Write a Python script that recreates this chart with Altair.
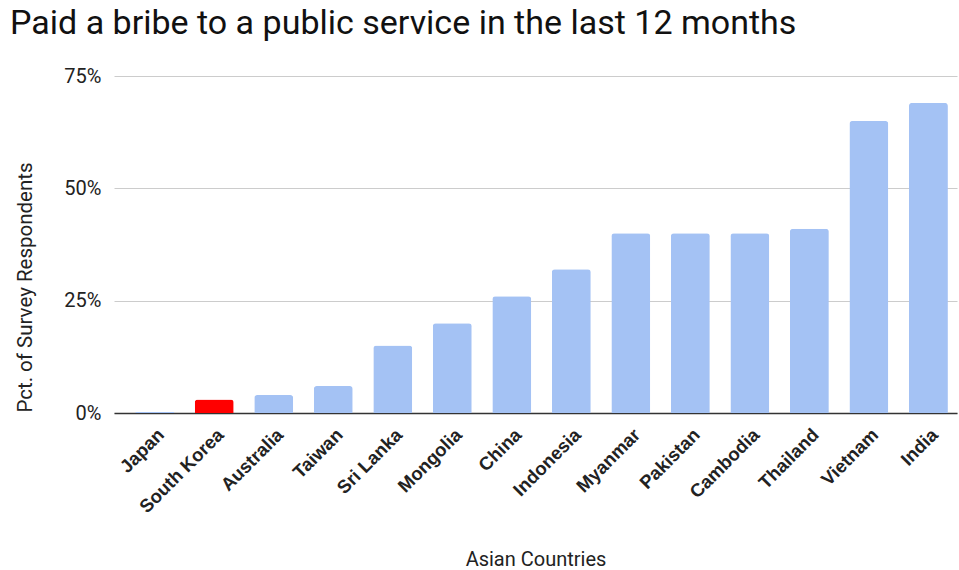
import altair as alt
import pandas as pd

countries = ["Japan", "South Korea", "Australia", "Taiwan", "Sri Lanka", "Mongolia",
             "China", "Indonesia", "Myanmar", "Pakistan", "Cambodia", "Thailand",
             "Vietnam", "India"]
values = [0.002, 0.03, 0.04, 0.06, 0.15, 0.20, 0.26, 0.32, 0.40, 0.40, 0.40, 0.41, 0.65, 0.69]
colors = ["#a4c2f4", "#ff0000"] + ["#a4c2f4"] * 12

df = pd.DataFrame({"country": countries, "value": values, "color": colors})

FONT = "Roboto"
LFONT = "Liberation Sans"

chart = alt.Chart(df).mark_bar(cornerRadiusTopLeft=3, cornerRadiusTopRight=3).encode(
    x=alt.X("country:N", sort=countries,
            scale=alt.Scale(paddingInner=0.345, paddingOuter=0.255, align=0.7),
            axis=alt.Axis(title="Asian Countries", labelAngle=-45, labelFontWeight="bold",
                          labelFontSize=18.5, labelColor="#222222", labelFont=LFONT,
                          ticks=False, domainColor="#333333", domainWidth=1.5,
                          labelPadding=12, titleFontSize=20, titleFont=FONT,
                          titleFontWeight="normal", titleColor="#222222", titlePadding=34)),
    y=alt.Y("value:Q", scale=alt.Scale(domain=[0, 0.75]),
            axis=alt.Axis(title="Pct. of Survey Respondents", format=".0%",
                          values=[0, 0.25, 0.5, 0.75], ticks=False, domain=False,
                          gridColor="#cccccc", labelFontSize=20, labelFont=FONT,
                          labelColor="#222222", labelPadding=13, titleFontSize=20.5,
                          titleFont=FONT, titleFontWeight="normal", titleColor="#222222",
                          titlePadding=28, titleY=211)),
    color=alt.Color("color:N", scale=None),
).properties(
    width=843, height=337,
    title=alt.TitleParams("Paid a bribe to a public service in the last 12 months",
                          anchor="start", frame="group", dx=-104, offset=25,
                          fontSize=34, font=FONT, fontWeight="normal", color="#111111"),
    autosize=alt.AutoSizeParams(type="none"),
    padding={"left": 114, "top": 76, "right": 2, "bottom": 157},
).configure_view(stroke=None)

chart.save("out.html", embed_options={"renderer": "svg", "actions": False})
